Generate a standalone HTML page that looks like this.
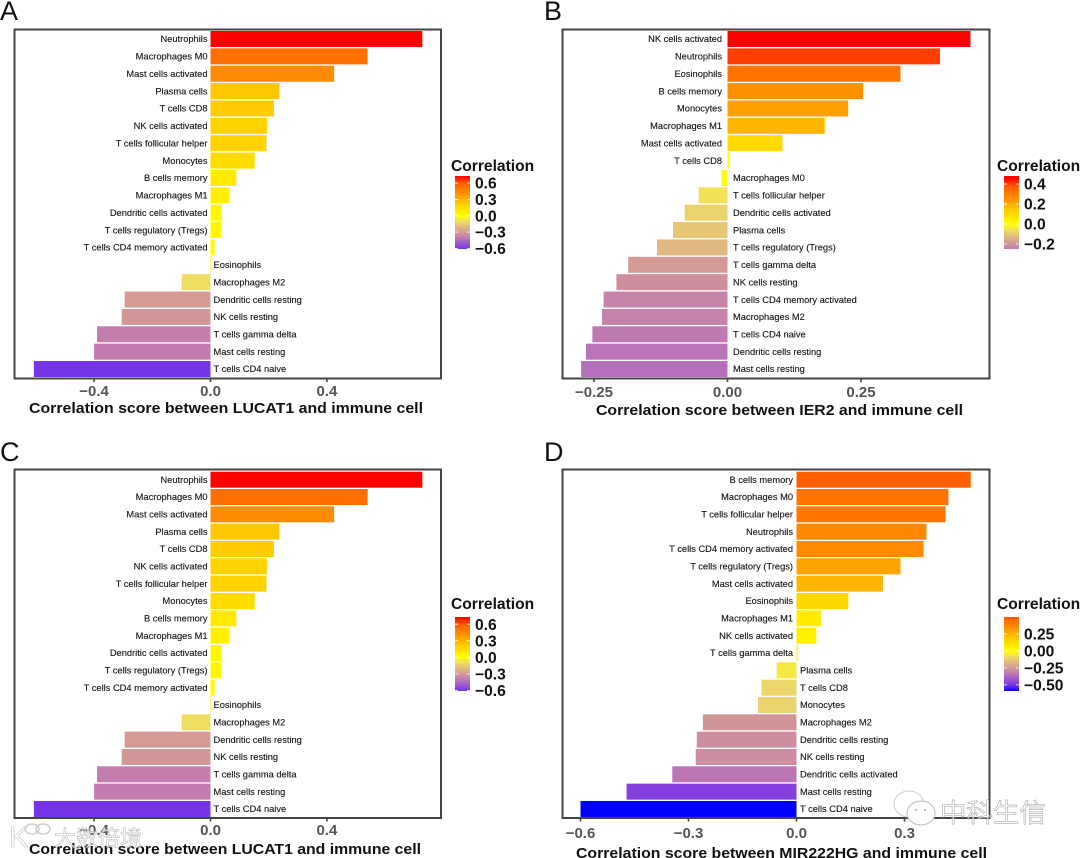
<!DOCTYPE html>
<html lang="en">
<head>
<meta charset="utf-8">
<title>Immune cell correlation charts</title>
<style>
  html, body { margin: 0; padding: 0; background: #fff; }
  body { width: 1080px; height: 858px; overflow: hidden; }
  svg { display: block; font-family: "Liberation Sans", "Noto Sans CJK SC", sans-serif; }
</style>
</head>
<body>
<svg id="figure" width="1080" height="858" viewBox="0 0 1080 858" xmlns="http://www.w3.org/2000/svg">
  <defs id="defs"></defs>
  <g id="charts" style="filter:blur(0.35px)"></g>
  <g id="watermark-left" opacity="0.9">
    <text x="9" y="847" font-size="29" fill="#fff" stroke="#bbb" stroke-width="0.6">K</text>
    <ellipse cx="32" cy="829" rx="7" ry="5" fill="none" stroke="#ccc" stroke-width="1.6"></ellipse>
    <ellipse cx="43" cy="829" rx="7" ry="5" fill="none" stroke="#ccc" stroke-width="1.6"></ellipse>
    <text x="54" y="846" font-size="22" fill="#fff" stroke="#aaa" stroke-width="0.5" textLength="88" lengthAdjust="spacingAndGlyphs" fill-opacity="0.75">大数倍境</text>
  </g>
  <g id="watermark-right">
    <ellipse cx="909" cy="804" rx="15" ry="13" fill="#fff" stroke="#ccc" stroke-width="1"></ellipse>
    <ellipse cx="921" cy="813" rx="14" ry="12" fill="#fff" stroke="#bbb" stroke-width="1"></ellipse>
    <circle cx="916" cy="810" r="1" fill="#aaa"></circle>
    <circle cx="925" cy="810" r="1" fill="#aaa"></circle>
    <text x="940" y="822" font-size="26" fill="#fff" fill-opacity="0.55" stroke="#999" stroke-width="0.5" textLength="106" lengthAdjust="spacingAndGlyphs">中科生信</text>
  </g>
</svg>
<script>
// ---- Panel A data ----
const categoriesA = ["Neutrophils","Macrophages M0","Mast cells activated","Plasma cells","T cells CD8","NK cells activated","T cells follicular helper","Monocytes","B cells memory","Macrophages M1","Dendritic cells activated","T cells regulatory (Tregs)","T cells CD4 memory activated","Eosinophils","Macrophages M2","Dendritic cells resting","NK cells resting","T cells gamma delta","Mast cells resting","T cells CD4 naive"];
const valuesA = [0.728,0.54,0.425,0.237,0.218,0.194,0.192,0.152,0.089,0.066,0.039,0.037,0.014,-0.002,-0.099,-0.295,-0.305,-0.39,-0.40,-0.607];
const xTicksA = [-0.4,0,0.4];
const xTickLabelsA = ["−0.4","0.0","0.4"];
const legendTicksA = [0.6,0.3,0,-0.3,-0.6];
const legendLabelsA = ["0.6","0.3","0.0","−0.3","−0.6"];
const legendLimitsA = [0.73,-0.61];

// ---- Panel B data ----
const categoriesB = ["NK cells activated","Neutrophils","Eosinophils","B cells memory","Monocytes","Macrophages M1","Mast cells activated","T cells CD8","Macrophages M0","T cells follicular helper","Dendritic cells activated","Plasma cells","T cells regulatory (Tregs)","T cells gamma delta","NK cells resting","T cells CD4 memory activated","Macrophages M2","T cells CD4 naive","Dendritic cells resting","Mast cells resting"];
const valuesB = [0.455,0.398,0.324,0.254,0.226,0.182,0.103,0.003,-0.011,-0.054,-0.08,-0.102,-0.132,-0.186,-0.208,-0.232,-0.235,-0.253,-0.265,-0.274];
const xTicksB = [-0.25,0,0.25];
const xTickLabelsB = ["−0.25","0.00","0.25"];
const legendTicksB = [0.4,0.2,0,-0.2];
const legendLabelsB = ["0.4","0.2","0.0","−0.2"];
const legendLimitsB = [0.48,-0.25];

// ---- Panel C data ----
const categoriesC = ["Neutrophils","Macrophages M0","Mast cells activated","Plasma cells","T cells CD8","NK cells activated","T cells follicular helper","Monocytes","B cells memory","Macrophages M1","Dendritic cells activated","T cells regulatory (Tregs)","T cells CD4 memory activated","Eosinophils","Macrophages M2","Dendritic cells resting","NK cells resting","T cells gamma delta","Mast cells resting","T cells CD4 naive"];
const valuesC = [0.728,0.54,0.425,0.237,0.218,0.194,0.192,0.152,0.089,0.066,0.039,0.037,0.014,-0.002,-0.099,-0.295,-0.305,-0.39,-0.40,-0.607];
const xTicksC = [-0.4,0,0.4];
const xTickLabelsC = ["−0.4","0.0","0.4"];
const legendTicksC = [0.6,0.3,0,-0.3,-0.6];
const legendLabelsC = ["0.6","0.3","0.0","−0.3","−0.6"];
const legendLimitsC = [0.73,-0.61];

// ---- Panel D data ----
const categoriesD = ["B cells memory","Macrophages M0","T cells follicular helper","Neutrophils","T cells CD4 memory activated","T cells regulatory (Tregs)","Mast cells activated","Eosinophils","Macrophages M1","NK cells activated","T cells gamma delta","Plasma cells","T cells CD8","Monocytes","Macrophages M2","Dendritic cells resting","NK cells resting","Dendritic cells activated","Mast cells resting","T cells CD4 naive"];
const valuesD = [0.484,0.422,0.414,0.361,0.353,0.289,0.240,0.144,0.069,0.055,0.004,-0.055,-0.097,-0.107,-0.26,-0.277,-0.28,-0.345,-0.472,-0.6];
const xTicksD = [-0.6,-0.3,0,0.3];
const xTickLabelsD = ["−0.6","−0.3","0.0","0.3"];
const legendTicksD = [0.25,0,-0.25,-0.5];
const legendLabelsD = ["0.25","0.00","−0.25","−0.50"];
const legendLimitsD = [0.5,-0.59];

const SVG_NS = "http://www.w3.org/2000/svg";
const chartsRoot = document.getElementById("charts");
const defsRoot = document.getElementById("defs");

function make(tag, parent, attrs, text) {
  const el = document.createElementNS(SVG_NS, tag);
  for (const k in attrs) el.setAttribute(k, attrs[k]);
  if (text !== undefined) el.textContent = text;
  parent.appendChild(el);
  return el;
}

function lerpStops(stops, t) {
  for (let i = 1; i < stops.length; i++) {
    if (t <= stops[i][0]) {
      const a = stops[i - 1], b = stops[i];
      const f = (t - a[0]) / (b[0] - a[0]);
      const r = Math.round(a[1] + (b[1] - a[1]) * f);
      const g = Math.round(a[2] + (b[2] - a[2]) * f);
      const bl = Math.round(a[3] + (b[3] - a[3]) * f);
      return "rgb(" + r + "," + g + "," + bl + ")";
    }
  }
  const l = stops[stops.length - 1];
  return "rgb(" + l[1] + "," + l[2] + "," + l[3] + ")";
}

const positiveRamp = [[0,255,255,0],[0.3,255,205,0],[0.58,255,140,0],[0.75,255,108,0],[0.82,255,92,0],[1,255,0,0]];
const negativeRamp = [[0,255,255,0],[0.14,239,220,102],[0.4,213,156,147],[0.55,193,123,176],[0.83,122,53,230],[1,0,0,255]];

function fillFor(v, maxAbs) {
  const t = Math.min(1, Math.abs(v) / maxAbs);
  return lerpStops(v >= 0 ? positiveRamp : negativeRamp, t);
}

function drawPanel(cfg) {
  const panel = make("g", chartsRoot, {});
  
  

  const letter = make("text", panel, { x: cfg.letterX, y: cfg.letterY, "font-size": 27, fill: "#111" }, cfg.id);
  
  

  const xScale = v => cfg.zeroX + v * cfg.pxPerUnit;
  const bandY = i => cfg.firstRowY + i * cfg.rowStep;
  const maxAbs = Math.max.apply(null, cfg.values.map(Math.abs));

  cfg.values.forEach((v, i) => {
    const x0 = xScale(Math.min(v, 0));
    const x1 = xScale(Math.max(v, 0));
    const bar = make("rect", panel, {
      x: x0, y: bandY(i) - 8, width: Math.max(x1 - x0, 0.5), height: 16,
      fill: fillFor(v, maxAbs)
    });
    
    

    const label = make("text", panel, {
      x: v >= 0 ? cfg.zeroX - cfg.labelGap : cfg.zeroX + cfg.labelGap,
      y: bandY(i) + 3.2,
      "font-size": 9.3,
      fill: "#111",
      stroke: "#111",
      "stroke-width": 0.12,
      "text-anchor": v >= 0 ? "end" : "start"
    }, cfg.categories[i]);
    
    
  });

  const frame = make("rect", panel, {
    x: cfg.frame[0], y: cfg.frame[1], width: cfg.frame[2] - cfg.frame[0], height: cfg.frame[3] - cfg.frame[1],
    fill: "none", stroke: "#444", "stroke-width": 2
  });
  
  

  cfg.xTicks.forEach((t, i) => {
    const tick = make("line", panel, {
      x1: xScale(t), x2: xScale(t), y1: cfg.frame[3], y2: cfg.frame[3] + 3.5, stroke: "#444", "stroke-width": 1.6
    });
    
    
    const tl = make("text", panel, {
      x: xScale(t), y: cfg.tickLabelY, "font-size": 15, "font-weight": "bold", fill: "#555", "text-anchor": "middle"
    }, cfg.xTickLabels[i]);
    
    
  });

  const title = make("text", panel, {
    x: cfg.titleX[0], y: cfg.titleY, "font-size": 15, "font-weight": "bold", fill: "#111",
    textLength: cfg.titleX[1] - cfg.titleX[0], lengthAdjust: "spacingAndGlyphs"
  }, cfg.title);
  
  

  // Legend
  const lg = make("g", panel, {});
  
  

  const legendTitle = make("text", lg, {
    x: cfg.legendTitleX, y: cfg.legendTitleY, "font-size": 15.6, "font-weight": "bold", fill: "#111"
  }, "Correlation");
  
  

  const hi = cfg.limits[0], lo = cfg.limits[1];
  const legendY = v => cfg.barTop + (hi - v) / (hi - lo) * cfg.barHeight;

  const grad = make("linearGradient", defsRoot, { id: "legend-grad-" + cfg.id, x1: 0, y1: 0, x2: 0, y2: 1 });
  for (let s = 0; s <= 40; s++) {
    const v = hi + (lo - hi) * s / 40;
    make("stop", grad, { offset: (s / 40 * 100) + "%", "stop-color": fillFor(v, maxAbs) });
  }
  const bar = make("rect", lg, {
    x: cfg.barX, y: cfg.barTop, width: 15, height: cfg.barHeight, fill: "url(#legend-grad-" + cfg.id + ")"
  });
  
  

  cfg.legendTicks.forEach((t, i) => {
    const y = legendY(t);
    [[cfg.barX, cfg.barX + 3], [cfg.barX + 12, cfg.barX + 15]].forEach((p, j) => {
      const m = make("line", lg, { x1: p[0], x2: p[1], y1: y, y2: y, stroke: "#fff", "stroke-width": 0.8 });
      
      
    });
    const l = make("text", lg, {
      x: cfg.barX + 20, y: y + 5.6, "font-size": 15.6, "font-weight": "bold", fill: "#111"
    }, cfg.legendLabels[i]);
    
    
  });
}

drawPanel({
  id: "A", categories: categoriesA, values: valuesA, xTicks: xTicksA, xTickLabels: xTickLabelsA,
  legendTicks: legendTicksA, legendLabels: legendLabelsA, limits: legendLimitsA,
  letterX: 0, letterY: 20, frame: [14.5, 29.5, 441, 378.5], zeroX: 210.5, pxPerUnit: 291,
  firstRowY: 39, rowStep: 17.37, labelGap: 3, tickLabelY: 396, titleX: [29, 423], titleY: 413,
  title: "Correlation score between LUCAT1 and immune cell",
  legendTitleX: 451, legendTitleY: 171, barX: 455, barTop: 176, barHeight: 73
});
drawPanel({
  id: "B", categories: categoriesB, values: valuesB, xTicks: xTicksB, xTickLabels: xTickLabelsB,
  legendTicks: legendTicksB, legendLabels: legendLabelsB, limits: legendLimitsB,
  letterX: 544, letterY: 20, frame: [562.5, 29.5, 989.5, 378.5], zeroX: 727.5, pxPerUnit: 534,
  firstRowY: 39, rowStep: 17.37, labelGap: 5.5, tickLabelY: 397, titleX: [596, 963], titleY: 415,
  title: "Correlation score between IER2 and immune cell",
  legendTitleX: 997, legendTitleY: 171, barX: 1004, barTop: 176, barHeight: 73
});
drawPanel({
  id: "C", categories: categoriesC, values: valuesC, xTicks: xTicksC, xTickLabels: xTickLabelsC,
  legendTicks: legendTicksC, legendLabels: legendLabelsC, limits: legendLimitsC,
  letterX: 0, letterY: 461, frame: [14.5, 469.5, 441, 818], zeroX: 210.5, pxPerUnit: 291,
  firstRowY: 479.7, rowStep: 17.33, labelGap: 3, tickLabelY: 835, titleX: [29, 421], titleY: 854,
  title: "Correlation score between LUCAT1 and immune cell",
  legendTitleX: 451, legendTitleY: 609, barX: 455, barTop: 617, barHeight: 74
});
drawPanel({
  id: "D", categories: categoriesD, values: valuesD, xTicks: xTicksD, xTickLabels: xTickLabelsD,
  legendTicks: legendTicksD, legendLabels: legendLabelsD, limits: legendLimitsD,
  letterX: 544, letterY: 461, frame: [562.5, 469.5, 989.5, 818], zeroX: 796.5, pxPerUnit: 360,
  firstRowY: 479.7, rowStep: 17.33, labelGap: 3.5, tickLabelY: 838, titleX: [576, 987], titleY: 858,
  title: "Correlation score between MIR222HG and immune cell",
  legendTitleX: 997, legendTitleY: 609, barX: 1004, barTop: 617, barHeight: 74
});
</script>
</body>
</html>
